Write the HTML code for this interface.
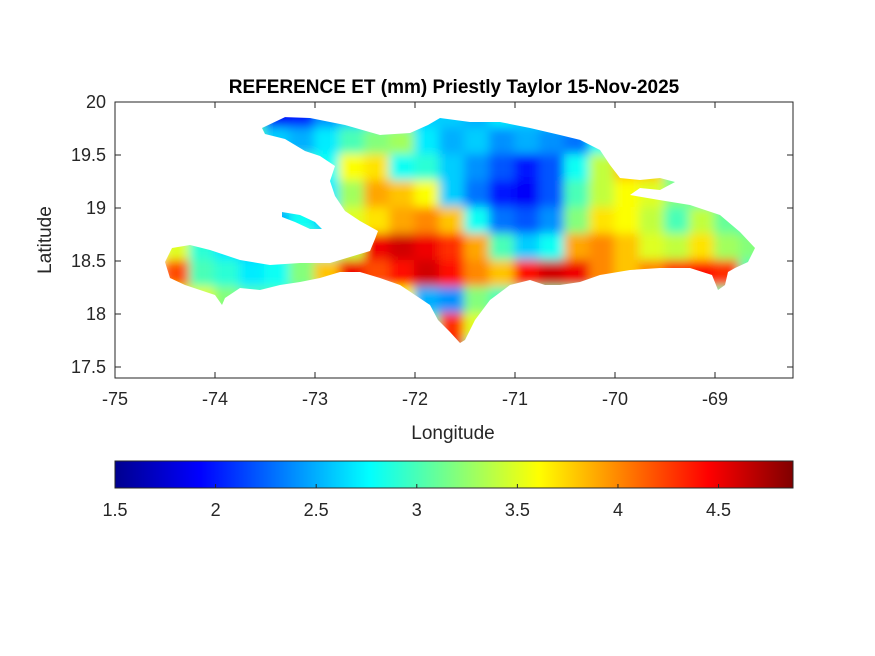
<!DOCTYPE html>
<html><head><meta charset="utf-8"><style>
body{margin:0;background:#fff;}
svg{display:block;font-family:"Liberation Sans",Arial,sans-serif;}
</style></head><body>
<svg id="chart" width="875" height="656" viewBox="0 0 875 656">
<defs>
<linearGradient id="jet" x1="0" x2="1" y1="0" y2="0">
<stop offset="0" stop-color="#00008F"/><stop offset="0.125" stop-color="#0000FF"/>
<stop offset="0.375" stop-color="#00FFFF"/><stop offset="0.625" stop-color="#FFFF00"/>
<stop offset="0.875" stop-color="#FF0000"/><stop offset="1" stop-color="#800000"/>
</linearGradient>
<filter id="blur" x="-5%" y="-5%" width="110%" height="110%"><feGaussianBlur stdDeviation="5"/></filter>
<clipPath id="islandClip"></clipPath>
</defs>
<rect x="115" y="102" width="678" height="276" fill="#fff" stroke="#262626" stroke-width="1"/>
<g id="mapg" clip-path="url(#islandClip)"><g id="cells" filter="url(#blur)"></g></g>
<g id="axes"></g>
<text x="454" y="93" text-anchor="middle" font-size="19" font-weight="bold" fill="#000">REFERENCE ET (mm) Priestly Taylor 15-Nov-2025</text>
<text x="453" y="439" text-anchor="middle" font-size="19" fill="#262626">Longitude</text>
<text transform="translate(51,240) rotate(-90)" text-anchor="middle" font-size="19" fill="#262626">Latitude</text>
<rect x="115" y="461" width="678" height="27" fill="url(#jet)" stroke="#262626" stroke-width="1"/>
<g id="cbticks"></g>
</svg>
<script>
const lonTicks=[-75,-74,-73,-72,-71,-70,-69];
const latTicks=[20,19.5,19,18.5,18,17.5];
const cbTicks=[1.5,2,2.5,3,3.5,4,4.5];
const cbMin=1.5, cbMax=4.87;
const gridLons=[-74.375,-74.125,-73.875,-73.625,-73.375,-73.125,-72.875,-72.625,-72.375,-72.125,-71.875,-71.625,-71.375,-71.125,-70.875,-70.625,-70.375,-70.125,-69.875,-69.625,-69.375,-69.125,-68.875,-68.625];
const gridLats=[19.875,19.625,19.375,19.125,18.875,18.625,18.375,18.125,17.875,17.625];
const etRow0=[3,3,3,3,1.9,2.0,2.4,2.6,2.7,2.7,2.6,2.6,2.5,2.7,2.6,2.6,2.8,3,3,3,3,3,3,3];
const etRow1=[3,3,3,3,2.6,2.5,2.7,3.0,3.2,3.3,2.7,2.5,2.6,2.4,2.5,2.4,2.3,2.8,3,3,3,3,3,3];
const etRow2=[3,3,3,3,3.5,3.0,2.8,3.6,3.7,2.8,2.9,2.6,2.4,2.2,2.0,2.2,2.8,3.4,3.8,3.8,3,3,3,3];
const etRow3=[3,3,3,3,3,2.6,2.7,3.3,3.9,3.8,3.6,2.6,2.3,2.0,1.9,2.2,3.0,3.4,3.6,3.5,3.2,3.0,3,3];
const etRow4=[3,3,3,2.4,2.5,2.8,2.6,3.5,3.7,3.9,4.0,3.8,2.8,2.3,2.2,2.4,3.2,3.7,3.6,3.4,3.0,3.4,3.1,3];
const etRow5=[3.5,2.9,2.7,2.6,2.8,3.2,3.0,3.4,4.5,4.6,4.5,4.3,3.9,3.0,2.6,2.8,3.9,4.0,3.8,3.5,3.4,3.7,3.3,3.2];
const etRow6=[4.2,3.0,2.9,2.7,2.8,3.2,3.8,4.5,4.2,4.4,4.6,4.4,4.0,3.8,4.4,4.6,4.5,4.0,3.8,4.0,4.3,4.4,4.3,3];
const etRow7=[3.5,3.5,3.2,3,3,3,3,3,3.0,3.6,2.5,2.4,3.2,3,3,3,3,3,3,3,3,3,3,3];
const etRow8=[3,3,3,3,3,3,3,3,3,4.4,3.0,4.3,3.5,3,3,3,3,3,3,3,3,3,3,3];
const etRow9=[3,3,3,3,3,3,3,3,3,3,3,4.5,3,3,3,3,3,3,3,3,3,3,3,3];
const etRows=[etRow0,etRow1,etRow2,etRow3,etRow4,etRow5,etRow6,etRow7,etRow8,etRow9];
const mainLon=[-73.53,-73.30,-73.05,-72.70,-72.35,-72.05,-71.87,-71.75,-71.45,-71.15,-70.85,-70.55,-70.35,-70.15,-70.05,-69.95,-69.75,-69.55,-69.40,-69.55,-69.75,-69.85,-69.55,-69.25,-68.95,-68.75,-68.60,-68.67,-68.80,-68.87,-68.90,-68.97,-69.03,-69.25,-69.55,-69.85,-70.15,-70.35,-70.55,-70.70,-70.85,-71.05,-71.25,-71.40,-71.50,-71.55,-71.65,-71.77,-71.85,-72.00,-72.15,-72.35,-72.55,-72.75,-72.95,-73.15,-73.35,-73.55,-73.75,-73.90,-73.93,-74.00,-74.15,-74.30,-74.45,-74.50,-74.43,-74.25,-74.05,-73.75,-73.45,-73.15,-72.85,-72.45,-72.40,-72.37,-72.55,-72.70,-72.80,-72.85,-72.80,-72.95,-73.10,-73.30,-73.50];
const mainLat=[19.755,19.858,19.849,19.783,19.689,19.708,19.783,19.849,19.811,19.811,19.755,19.689,19.642,19.547,19.406,19.283,19.264,19.283,19.245,19.170,19.189,19.123,19.075,19.028,18.934,18.774,18.623,18.491,18.434,18.396,18.274,18.226,18.368,18.434,18.434,18.415,18.368,18.302,18.274,18.274,18.321,18.274,18.132,17.943,17.755,17.726,17.830,17.943,18.085,18.179,18.274,18.340,18.396,18.396,18.340,18.302,18.274,18.226,18.245,18.151,18.085,18.179,18.226,18.274,18.340,18.491,18.623,18.651,18.604,18.509,18.462,18.481,18.481,18.594,18.708,18.783,18.877,18.972,19.113,19.255,19.396,19.491,19.538,19.651,19.698];
const gonLon=[-73.33,-73.15,-73.00,-72.93,-73.05,-73.20,-73.33];
const gonLat=[18.962,18.934,18.868,18.802,18.802,18.868,18.915];
const NS='http://www.w3.org/2000/svg';
const X=lon=>115+(lon+75)*100;
const Y=lat=>102+(20-lat)*106;
const C=v=>115+(v-cbMin)/(cbMax-cbMin)*678;
function jet(v){
  let t=Math.max(0,Math.min(1,(v-cbMin)/(cbMax-cbMin)));
  const st=[[0,0,0,143],[0.125,0,0,255],[0.375,0,255,255],[0.625,255,255,0],[0.875,255,0,0],[1,128,0,0]];
  for(let i=0;i<st.length-1;i++){const a=st[i],b=st[i+1];
    if(t<=b[0]){const f=(t-a[0])/(b[0]-a[0]);
      return `rgb(${Math.round(a[1]+f*(b[1]-a[1]))},${Math.round(a[2]+f*(b[2]-a[2]))},${Math.round(a[3]+f*(b[3]-a[3]))})`;}}
  return 'rgb(128,0,0)';
}
function mk(tag,attrs,parent){const e=document.createElementNS(NS,tag);for(const k in attrs)e.setAttribute(k,attrs[k]);parent.appendChild(e);return e;}
const clip=document.getElementById('islandClip');
function pts(lons,lats){return lons.map((l,i)=>X(l).toFixed(1)+','+Y(lats[i]).toFixed(1)).join(' ');}
mk('polygon',{points:pts(mainLon,mainLat)},clip);
mk('polygon',{points:pts(gonLon,gonLat)},clip);
const cells=document.getElementById('cells');
const cw=25, ch=26.5;
etRows.forEach((row,r)=>{row.forEach((v,c)=>{
  const rc=mk('rect',{x:X(gridLons[c])-cw/2-1,y:Y(gridLats[r])-ch/2-1,width:cw+2,height:ch+2,fill:jet(v)},cells);
  
  
});});
const ax=document.getElementById('axes');
lonTicks.forEach(l=>{
  mk('line',{x1:X(l),x2:X(l),y1:378,y2:372,stroke:'#262626'},ax);
  mk('line',{x1:X(l),x2:X(l),y1:102,y2:108,stroke:'#262626'},ax);
  const t=mk('text',{x:X(l),y:405,'text-anchor':'middle','font-size':'18',fill:'#262626'},ax);
  t.textContent=l;
  
  
});
latTicks.forEach(l=>{
  mk('line',{x1:115,x2:121,y1:Y(l),y2:Y(l),stroke:'#262626'},ax);
  mk('line',{x1:793,x2:787,y1:Y(l),y2:Y(l),stroke:'#262626'},ax);
  const t=mk('text',{x:106,y:Y(l)+6,'text-anchor':'end','font-size':'18',fill:'#262626'},ax);
  t.textContent=l;
  
  
});
const cb=document.getElementById('cbticks');
cbTicks.forEach(v=>{
  mk('line',{x1:C(v),x2:C(v),y1:488,y2:484,stroke:'#262626'},cb);
  const t=mk('text',{x:C(v),y:516,'text-anchor':'middle','font-size':'18',fill:'#262626'},cb);
  t.textContent=v;
  
  
});
</script>
</body></html>
